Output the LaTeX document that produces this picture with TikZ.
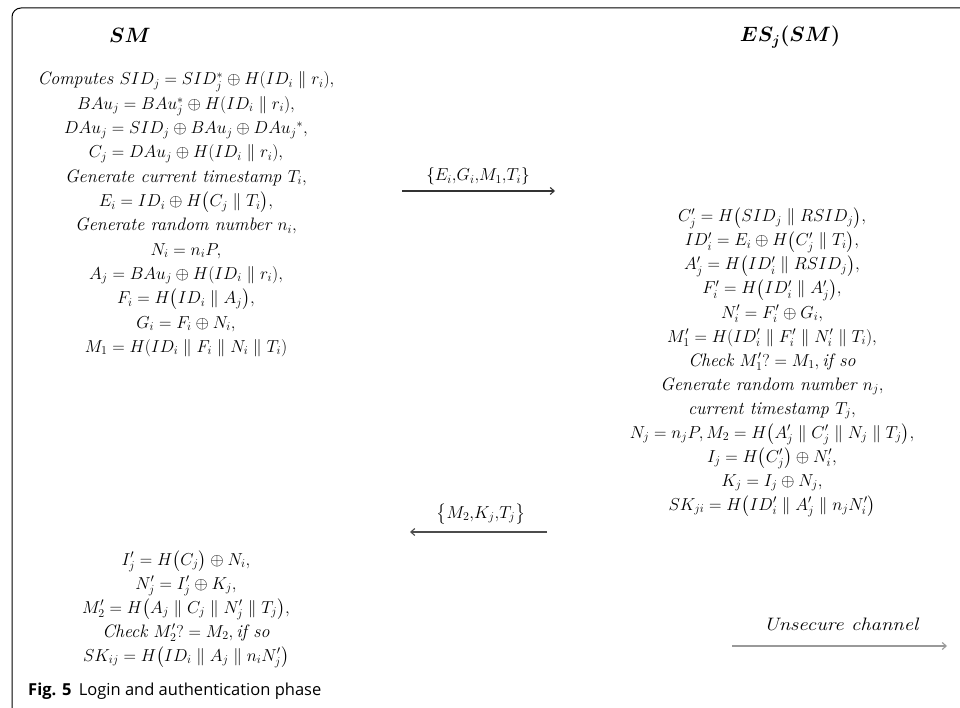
\documentclass[tikz,border=0pt]{standalone}
\usepackage{amsmath}
\usepackage{fontspec}
\newfontfamily\capfont{Open Sans}
\usetikzlibrary{arrows.meta}
\begin{document}
\begin{tikzpicture}[x=1pt,y=-1pt,
  lnx/.style={anchor=base,inner sep=0pt,font=\fontsize{18}{21}\selectfont},
  ttlx/.style={anchor=base,inner sep=0pt,font=\fontsize{20}{24}\selectfont},
  msgx/.style={draw=black!80,line width=1.1pt,-{Straight Barb[length=4pt,width=7pt]}},
  borderx/.style={draw=black,line width=1pt}]
\useasboundingbox (0,0) rectangle (960,708);
\draw[borderx,rounded corners=9pt] (12,708) -- (12,8) -- (960,8);
\node[ttlx] (tsm) at (130,43) {$\boldsymbol{SM}$};
\node[ttlx] (tes) at (790,42) {$\boldsymbol{ES_j(SM)}$};
\foreach \t [count=\i from 0] in {
 {$\textit{Computes } SID_j = SID_j^{*}\oplus H(ID_i \parallel r_i),$},
 {$BAu_j = BAu_j^{*}\oplus H(ID_i \parallel r_i),$},
 {$DAu_j = SID_j\oplus BAu_j \oplus DAu_j{}^{*},$},
 {$C_j = DAu_j\oplus H(ID_i \parallel r_i),$},
 {$\textit{Generate current timestamp } T_i,$},
 {$E_i = ID_i\oplus H\bigl(C_j \parallel T_i\bigr),$},
 {$\textit{Generate random number } n_i,$},
 {$N_i = n_iP,$},
 {$A_j = BAu_j\oplus H(ID_i \parallel r_i),$},
 {$F_i = H\bigl(ID_i \parallel A_j\bigr),$},
 {$G_i = F_i\oplus N_i,$},
 {$M_1 = H(ID_i \parallel F_i \parallel N_i \parallel T_i)$}}
 \node[lnx] (l\i) at (186,85+24.3*\i) {\t};
\foreach \t [count=\i from 0] in {
 {$C_j' = H\bigl(SID_j \parallel RSID_j\bigr),$},
 {$ID_i' = E_i\oplus H\bigl(C_j' \parallel T_i\bigr),$},
 {$A_j' = H\bigl(ID_i' \parallel RSID_j\bigr),$},
 {$F_i' = H\bigl(ID_i' \parallel A_j'\bigr),$},
 {$N_i' = F_i'\oplus G_i,$},
 {$M_1' = H(ID_i' \parallel F_i' \parallel N_i' \parallel T_i),$},
 {$\textit{Check } M_1'?= M_1,\textit{if so}$},
 {$\textit{Generate random number } n_j,$},
 {$\textit{current timestamp } T_j,$},
 {$N_j = n_jP, M_2 = H\bigl(A_j' \parallel C_j' \parallel N_j \parallel T_j\bigr),$},
 {$I_j = H\bigl(C_j'\bigr)\oplus N_i',$},
 {$K_j = I_j\oplus N_j,$},
 {$SK_{ji} = H\bigl(ID_i' \parallel A_j' \parallel n_jN_i'\bigr)$}}
 \node[lnx] (r\i) at (772,222+24*\i) {\t};
\foreach \t [count=\i from 0] in {
 {$I_j' = H\bigl(C_j\bigr)\oplus N_i,$},
 {$N_j' = I_j'\oplus K_j,$},
 {$M_2' = H\bigl(A_j \parallel C_j \parallel N_j' \parallel T_j\bigr),$},
 {$\textit{Check } M_2'?= M_2,\textit{if so}$},
 {$SK_{ij} = H\bigl(ID_i \parallel A_j \parallel n_iN_j'\bigr)$}}
 \node[lnx] (b\i) at (186,565+24*\i) {\t};
\coordinate (m1s) at (402,191);
\coordinate (m1e) at (555,191);
\draw[msgx] (m1s) -- (m1e);
\node[lnx] (m1l) at (478,181) {$\{E_i{,}G_i{,}M_1{,}T_i\}$};
\coordinate (m2s) at (547,532);
\coordinate (m2e) at (410,532);
\draw[msgx,draw=black!70] (m2s) -- (m2e);
\node[lnx] (m2l) at (481,518) {$\bigl\{M_2{,}K_j{,}T_j\bigr\}$};
\coordinate (us) at (732,646);
\coordinate (ue) at (947,646);
\draw[msgx,draw=black!40] (us) -- (ue);
\node[lnx,xscale=1.15,transform shape] (ul) at (841,630) {\itshape Unsecure channel};
\node[anchor=base west,inner sep=0pt,font=\capfont\fontsize{16.5}{19}\selectfont] (cap) at (28,695) {\textbf{Fig. 5}\hspace{0.45em}Login and authentication phase};
\end{tikzpicture}
\end{document}
